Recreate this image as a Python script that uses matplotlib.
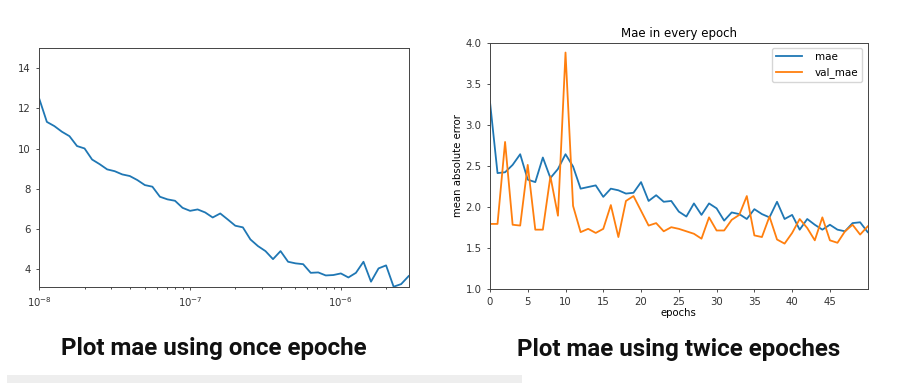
import numpy as np
import matplotlib
matplotlib.use("Agg")
import matplotlib.pyplot as plt
from matplotlib.patches import Rectangle


# left chart: mae vs learning rate (one epoch per lr, lr = 1e-8 * 10**(epoch/20))
lr_epochs = np.arange(50)
lr_values = 1e-8 * 10 ** (lr_epochs / 20)
lr_mae = [12.47, 11.33, 11.12, 10.84, 10.62, 10.13, 10.01, 9.46, 9.23, 8.97,
          8.88, 8.72, 8.64, 8.44, 8.19, 8.11, 7.61, 7.48, 7.41, 7.06,
          6.91, 6.98, 6.83, 6.58, 6.78, 6.48, 6.17, 6.09, 5.49, 5.16,
          4.91, 4.51, 4.91, 4.38, 4.30, 4.26, 3.83, 3.85, 3.70, 3.72,
          3.80, 3.60, 3.83, 4.38, 3.39, 4.05, 4.20, 3.14, 3.27, 3.67]

# right chart: mae / val_mae per epoch
epochs = list(range(51))
mae = [3.28, 2.41, 2.42, 2.51, 2.64, 2.33, 2.30, 2.60, 2.35, 2.46,
       2.64, 2.49, 2.22, 2.24, 2.26, 2.12, 2.22, 2.20, 2.16, 2.17,
       2.30, 2.07, 2.14, 2.06, 2.07, 1.94, 1.88, 2.04, 1.90, 2.04,
       1.98, 1.83, 1.93, 1.91, 1.85, 1.97, 1.91, 1.87, 2.06, 1.85,
       1.90, 1.72, 1.85, 1.78, 1.72, 1.78, 1.72, 1.70, 1.80, 1.81,
       1.69]
val_mae = [1.79, 1.79, 2.79, 1.78, 1.77, 2.51, 1.72, 1.72, 2.37, 1.89,
           3.88, 2.01, 1.69, 1.73, 1.68, 1.73, 2.02, 1.63, 2.07, 2.13,
           1.95, 1.77, 1.80, 1.70, 1.75, 1.73, 1.70, 1.67, 1.61, 1.87,
           1.71, 1.71, 1.84, 1.90, 2.13, 1.65, 1.63, 1.88, 1.60, 1.55,
           1.68, 1.85, 1.74, 1.59, 1.87, 1.59, 1.56, 1.70, 1.78, 1.66,
           1.76]

captions = ["Plot mae using once epoche", "Plot mae using twice epoches"]

fig = plt.figure(figsize=(9.06, 3.83), dpi=100)

# left plot
ax1 = fig.add_axes([0.0434, 0.2514, 0.4077, 0.6232])
ax1.semilogx(lr_values, lr_mae, color="#1f77b4", lw=1.3)
ax1.set_xlim(1e-8, lr_values[-1])
ax1.set_ylim(3.14, 15)
ax1.set_yticks([4, 6, 8, 10, 12, 14])
ax1.tick_params(labelsize=7.3, length=2.5, width=0.6, colors="#333333")
ax1.tick_params(which="minor", length=1.5, width=0.5)

# right plot
ax2 = fig.add_axes([0.5408, 0.2462, 0.4169, 0.6423])
ax2.plot(epochs, mae, color="#1f77b4", lw=1.3, label="mae")
ax2.plot(epochs, val_mae, color="#ff7f0e", lw=1.3, label="val_mae")
ax2.set_xlim(0, 50)
ax2.set_ylim(1.0, 4.0)
ax2.set_xticks(range(0, 50, 5))
ax2.set_yticks(np.arange(1.0, 4.01, 0.5))
ax2.set_title("Mae in every epoch", fontsize=8.5, pad=4)
ax2.set_xlabel("epochs", fontsize=7.3, labelpad=1)
ax2.set_ylabel("mean absolute error", fontsize=7.3, labelpad=2)
ax2.tick_params(labelsize=7.3, length=2.5, width=0.6, colors="#333333")
ax2.legend(loc="upper right", fontsize=7.5, handlelength=2.5, handletextpad=1.2)

for ax in (ax1, ax2):
    for s in ax.spines.values():
        s.set_linewidth(0.7)
        s.set_color("#444444")

cap_font = ["Roboto", "DejaVu Sans"]
fig.text(0.236, 0.089, captions[0], ha="center", va="center", fontsize=17.4,
         fontweight="bold", family=cap_font, color="#111111")
fig.text(0.749, 0.087, captions[1], ha="center", va="center", fontsize=17.4,
         fontweight="bold", family=cap_font, color="#111111")

# grey strip at the bottom of the screenshot
fig.patches.append(Rectangle((0.008, 0.0), 0.568, 0.02, transform=fig.transFigure,
                             facecolor="#eeeeee", edgecolor="none"))

fig.savefig("out.png", dpi=100)
